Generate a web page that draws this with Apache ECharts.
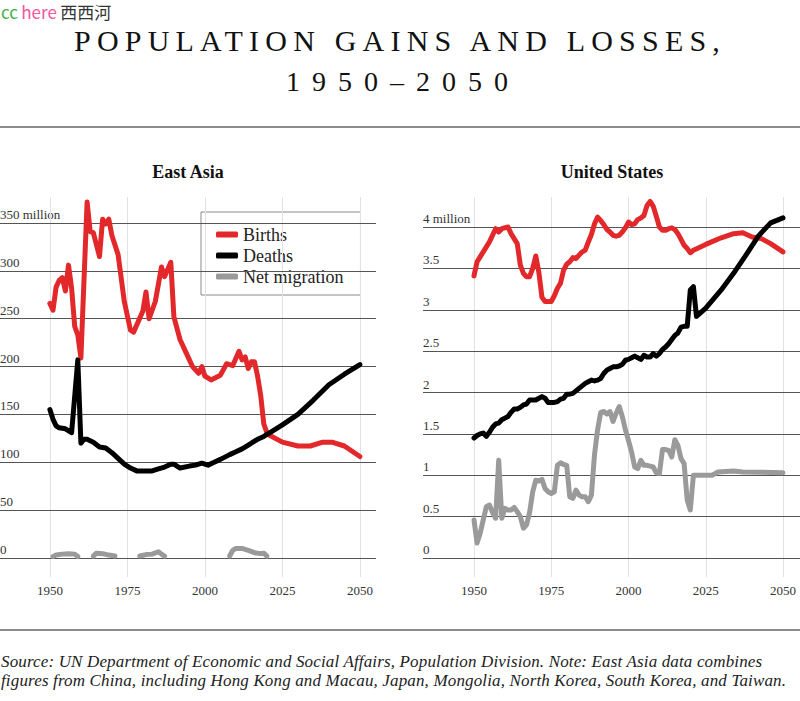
<!DOCTYPE html>
<html>
<head>
<meta charset="utf-8">
<script src="https://cdn.jsdelivr.net/npm/echarts@6/dist/echarts.min.js"></script>
<style>
html,body{margin:0;padding:0;background:#fff;}
#c{width:800px;height:701px;}
</style>
</head>
<body>
<div id="c"></div>
<script>
// ---------- tick labels ----------
const xTicks = [1950, 1975, 2000, 2025, 2050];
const eastAsiaYTicks = [0, 50, 100, 150, 200, 250, 300, 350];
const usYTicks = [0, 0.5, 1, 1.5, 2, 2.5, 3, 3.5, 4];
const seriesNames = ['Births', 'Deaths', 'Net migration'];
const panelTitles = ['East Asia', 'United States'];

// ---------- East Asia (million-scale as labelled) ----------
const eastAsiaBirths = [
  [1950,266],[1951,259],[1952,283],[1953,290],[1954,293],[1955,279],[1956,306],[1957,282],
  [1958,242],[1959,233],[1960,209],[1962,372],[1963,341],[1964,340],[1966,315],[1967,354],
  [1968,349],[1969,354],[1970,337],[1972,317],[1974,268],[1976,238],[1977,236],[1980,258],
  [1981,278],[1982,250],[1984,268],[1986,304],[1987,294],[1989,309],[1990,252],[1992,228],
  [1994,214],[1996,200],[1998,193],[1999,200],[2000,190],[2002,186],[2005,191],[2007,203],
  [2009,201],[2011,216],[2012,207],[2013,210],[2014,198],[2015,205],[2016,205],[2017,190],
  [2018,170],[2019,140],[2020,131],[2021,128],[2025,121],[2030,117],[2034,117],[2038,121],
  [2041,121],[2045,117],[2050,106]
];
const eastAsiaDeaths = [
  [1950,155],[1951,145],[1952,138],[1953,136],[1955,135],[1957,131],[1959,207],[1960,120],
  [1961,124],[1962,124],[1964,121],[1966,116],[1968,115],[1970,110],[1972,104],[1974,98],
  [1976,94],[1978,91],[1980,91],[1983,91],[1985,93],[1987,95],[1989,98],[1990,98],[1992,94],
  [1995,96],[1997,97],[1999,99],[2001,97],[2003,100],[2005,103],[2008,108],[2010,111],
  [2012,114],[2014,118],[2016,122],[2017,124],[2019,127],[2021,131],[2025,139],[2030,150],
  [2035,165],[2040,181],[2045,192],[2050,202]
];
const eastAsiaMigration = [
  [1951,1.5],[1952,3],[1954,4],[1956,4.5],[1958,4],[1959,1.5],[1960,'-'],
  [1964,2],[1965,5],[1967,4.5],[1969,3],[1971,2],[1972,'-'],
  [1979,2],[1981,3.5],[1983,4],[1985,6.5],[1986,4],[1987,2],[1988,'-'],
  [2008,2],[2009,8],[2010,10],[2012,10],[2014,8],[2016,5.5],[2018,4.5],[2019,5],[2020,2]
];

// ---------- United States (millions) ----------
const usBirths = [
  [1950,3.41],[1951,3.58],[1952,3.64],[1954,3.76],[1955,3.82],[1957,3.98],[1958,3.94],[1959,3.98],
  [1961,4.00],[1962,3.92],[1963,3.86],[1964,3.80],[1965,3.54],[1966,3.44],[1967,3.40],[1968,3.40],
  [1969,3.50],[1970,3.65],[1971,3.45],[1972,3.15],[1973,3.10],[1975,3.10],[1976,3.17],[1977,3.26],
  [1978,3.32],[1979,3.48],[1980,3.55],[1981,3.58],[1982,3.63],[1983,3.62],[1984,3.66],[1985,3.70],
  [1986,3.72],[1987,3.82],[1988,3.91],[1989,4.04],[1990,4.12],[1991,4.08],[1992,4.03],[1993,3.97],
  [1994,3.94],[1995,3.90],[1996,3.89],[1997,3.90],[1998,3.94],[1999,3.99],[2000,4.06],[2001,4.03],
  [2002,4.04],[2003,4.09],[2004,4.11],[2005,4.14],[2006,4.26],[2007,4.31],[2008,4.25],[2009,4.13],
  [2010,4.00],[2011,3.96],[2012,3.96],[2013,3.98],[2014,3.99],[2015,3.97],[2016,3.92],[2017,3.85],
  [2018,3.78],[2019,3.74],[2020,3.69],[2021,3.72],[2025,3.79],[2030,3.87],[2034,3.92],[2037,3.93],
  [2040,3.88],[2043,3.86],[2046,3.80],[2050,3.70]
];
const usDeaths = [
  [1950,1.45],[1951,1.48],[1952,1.50],[1953,1.51],[1954,1.47],[1955,1.52],[1956,1.58],[1957,1.62],
  [1958,1.63],[1959,1.67],[1960,1.69],[1961,1.71],[1962,1.76],[1963,1.80],[1964,1.80],[1965,1.82],
  [1966,1.85],[1967,1.86],[1968,1.91],[1969,1.91],[1970,1.91],[1971,1.93],[1972,1.95],[1973,1.93],
  [1974,1.88],[1975,1.88],[1976,1.88],[1977,1.89],[1978,1.92],[1979,1.93],[1980,1.98],[1981,1.98],
  [1982,1.99],[1983,2.02],[1984,2.05],[1985,2.08],[1986,2.11],[1987,2.13],[1988,2.15],[1989,2.14],
  [1990,2.15],[1991,2.17],[1992,2.23],[1993,2.27],[1994,2.29],[1995,2.31],[1996,2.31],[1997,2.32],
  [1998,2.34],[1999,2.39],[2000,2.40],[2001,2.42],[2002,2.44],[2003,2.42],[2004,2.40],[2005,2.45],
  [2006,2.43],[2007,2.43],[2008,2.47],[2009,2.44],[2010,2.47],[2011,2.52],[2012,2.55],[2013,2.59],
  [2014,2.64],[2015,2.69],[2016,2.72],[2017,2.79],[2018,2.80],[2019,2.80],[2020,3.24],[2021,3.28],
  [2022,2.92],[2025,3.02],[2030,3.24],[2034,3.44],[2038,3.66],[2042,3.89],[2046,4.05],[2050,4.11]
];
const usMigration = [
  [1950,0.46],[1951,0.18],[1952,0.30],[1953,0.46],[1954,0.62],[1955,0.64],[1956,0.55],[1957,0.48],
  [1958,1.18],[1959,0.48],[1960,0.60],[1961,0.58],[1962,0.58],[1963,0.61],[1964,0.56],[1965,0.50],
  [1966,0.36],[1967,0.40],[1968,0.55],[1969,0.80],[1970,0.94],[1971,0.93],[1972,0.95],[1973,0.84],
  [1974,0.80],[1975,0.78],[1976,0.80],[1977,1.12],[1978,1.15],[1979,1.13],[1980,1.12],[1981,0.74],
  [1982,0.72],[1983,0.82],[1984,0.76],[1985,0.74],[1986,0.74],[1987,0.68],[1988,0.76],[1989,1.25],
  [1990,1.55],[1991,1.76],[1992,1.77],[1993,1.74],[1994,1.77],[1995,1.65],[1996,1.75],[1997,1.83],
  [1998,1.71],[1999,1.55],[2000,1.42],[2001,1.28],[2002,1.10],[2003,1.08],[2004,1.18],[2005,1.12],
  [2006,1.12],[2007,1.11],[2008,1.10],[2009,1.03],[2010,1.02],[2011,1.31],[2012,1.31],[2013,1.30],
  [2014,1.22],[2015,1.43],[2016,1.36],[2017,1.20],[2018,1.14],[2019,0.70],[2020,0.58],[2021,1.00],
  [2027,1.00],[2029,1.04],[2034,1.05],[2037,1.04],[2050,1.03]
];

// ---------- styling ----------
const SERIF = "'Liberation Serif', 'DejaVu Serif', serif";
const RED = '#e2282a', BLACK = '#000000', GRAY = '#9a9a9a';
const colors = [RED, BLACK, GRAY];

function dataSeries(name, data, color, idx) {
  return {
    type: 'line', name: name, data: data,
    xAxisIndex: idx, yAxisIndex: idx,
    symbol: 'none', showSymbol: false, connectNulls: false, silent: true,
    lineStyle: { color: color, width: 5, cap: 'round', join: 'round' },
    itemStyle: { color: color }, z: 5
  };
}
function gridSeries(idx, yTicks) {
  return {
    type: 'line', name: 'grid' + idx, data: [[xTicks[0], yTicks[0]]],
    xAxisIndex: idx, yAxisIndex: idx, symbol: 'none', silent: true, z: 1,
    lineStyle: { opacity: 0 },
    markLine: {
      silent: true, symbol: 'none', animation: false, label: { show: false },
      data: xTicks.map(v => ({ xAxis: v, lineStyle: { color: '#e2e2e2', width: 1, type: 'solid' } }))
        .concat(yTicks.map(v => ({ yAxis: v, lineStyle: { color: '#555555', width: 1, type: 'solid' } })))
    }
  };
}
function xAxisOf(idx, min, max) {
  return {
    type: 'value', gridIndex: idx, min: min, max: max,
    axisLine: { show: false }, axisTick: { show: false }, splitLine: { show: false },
    axisLabel: { customValues: xTicks, formatter: v => String(v), margin: 7,
      fontFamily: SERIF, fontSize: 13, color: '#333' }
  };
}
function yAxisOf(idx, min, max, ticks, top) {
  return {
    type: 'value', gridIndex: idx, min: min, max: max,
    axisLine: { show: false }, axisTick: { show: false }, splitLine: { show: false },
    axisLabel: { inside: true, margin: 0, customValues: ticks,
      formatter: v => (v === top ? v + ' million' : String(v)),
      align: 'left', verticalAlign: 'bottom', padding: [0, 0, 2, 0],
      fontFamily: SERIF, fontSize: 13, color: '#333' }
  };
}

const SANS = "'Noto Sans CJK SC', 'Noto Sans', sans-serif";
const option = {
  animation: false,
  backgroundColor: '#ffffff',
  grid: [
    { left: 0, top: 197, width: 376, height: 380, outerBoundsMode: 'none', containLabel: false },
    { left: 423, top: 197, width: 377, height: 380, outerBoundsMode: 'none', containLabel: false }
  ],
  xAxis: [ xAxisOf(0, 1933.9, 2055.2), xAxisOf(1, 1933.5, 2055.5) ],
  yAxis: [ yAxisOf(0, -19.9, 377.2, eastAsiaYTicks, 350), yAxisOf(1, -0.23, 4.363, usYTicks, 4) ],
  legend: {
    data: seriesNames, orient: 'vertical', left: 201, top: 212,
    padding: [12, 17, 8, 15], itemGap: 0, itemWidth: 22, itemHeight: 6,
    icon: 'roundRect', backgroundColor: '#ffffff', borderColor: '#8a8a8a', borderWidth: 1,
    selectedMode: false,
    textStyle: { fontFamily: SERIF, fontSize: 18, color: '#222', lineHeight: 21 }
  },
  graphic: [
    { type: 'text', x: 1, y: 2, style: { rich: {
        a: { fill: '#3fae49', fontSize: 17, lineHeight: 18, fontFamily: SANS },
        b: { fill: '#f2569f', fontSize: 17, lineHeight: 18, fontFamily: SANS },
        c: { fill: '#333333', fontSize: 17, lineHeight: 18, fontFamily: SANS } },
        text: '{a|cc} {b|here} {c|西西河}', verticalAlign: 'top', align: 'left' } },
    { type: 'text', x: 400, y: 40, style: { text: 'POPULATION GAINS AND LOSSES,', fontFamily: SERIF,
        fontSize: 30, fill: '#111', align: 'center', verticalAlign: 'middle' } },
    { type: 'text', x: 403, y: 81, style: { text: '1950–2050', fontFamily: SERIF,
        fontSize: 28, fill: '#111', align: 'center', verticalAlign: 'middle' } },
    { type: 'rect', shape: { x: 0, y: 126, width: 800, height: 2 }, style: { fill: '#8c8c8c' } },
    { type: 'text', x: 188, y: 172, style: { text: panelTitles[0], fontFamily: SERIF, fontWeight: 'bold',
        fontSize: 18, fill: '#111', align: 'center', verticalAlign: 'middle' } },
    { type: 'text', x: 612, y: 172, style: { text: panelTitles[1], fontFamily: SERIF, fontWeight: 'bold',
        fontSize: 18, fill: '#111', align: 'center', verticalAlign: 'middle' } },
    { type: 'rect', shape: { x: 0, y: 629, width: 800, height: 2 }, style: { fill: '#8c8c8c' } },
    { type: 'text', x: 1, y: 651.5, style: {
        text: 'Source: UN Department of Economic and Social Affairs, Population Division. Note: East Asia data combines\nfigures from China, including Hong Kong and Macau, Japan, Mongolia, North Korea, South Korea, and Taiwan.',
        fontFamily: SERIF, fontStyle: 'italic', fontSize: 17, lineHeight: 19, fill: '#222',
        align: 'left', verticalAlign: 'top' } }
  ],
  series: [
    gridSeries(0, eastAsiaYTicks),
    gridSeries(1, usYTicks),
    dataSeries(seriesNames[0], eastAsiaBirths, colors[0], 0),
    dataSeries(seriesNames[1], eastAsiaDeaths, colors[1], 0),
    dataSeries(seriesNames[2], eastAsiaMigration, colors[2], 0),
    dataSeries(seriesNames[0], usBirths, colors[0], 1),
    dataSeries(seriesNames[1], usDeaths, colors[1], 1),
    dataSeries(seriesNames[2], usMigration, colors[2], 1)
  ]
};

const chart = echarts.init(document.getElementById('c'), null, { renderer: 'svg' });
chart.setOption(option);
// letter-spacing tweaks to match the original typography
document.querySelectorAll('#c text').forEach(function (t) {
  const s = t.textContent;
  if (s.indexOf('POPULATION') === 0) t.style.letterSpacing = '6.2px';
  else if (s === '1950–2050') t.style.letterSpacing = '12px';
  else if (s.indexOf('Source:') === 0 || s.indexOf('figures from') === 0) t.style.letterSpacing = '0.15px';
});
</script>
</body>
</html>
